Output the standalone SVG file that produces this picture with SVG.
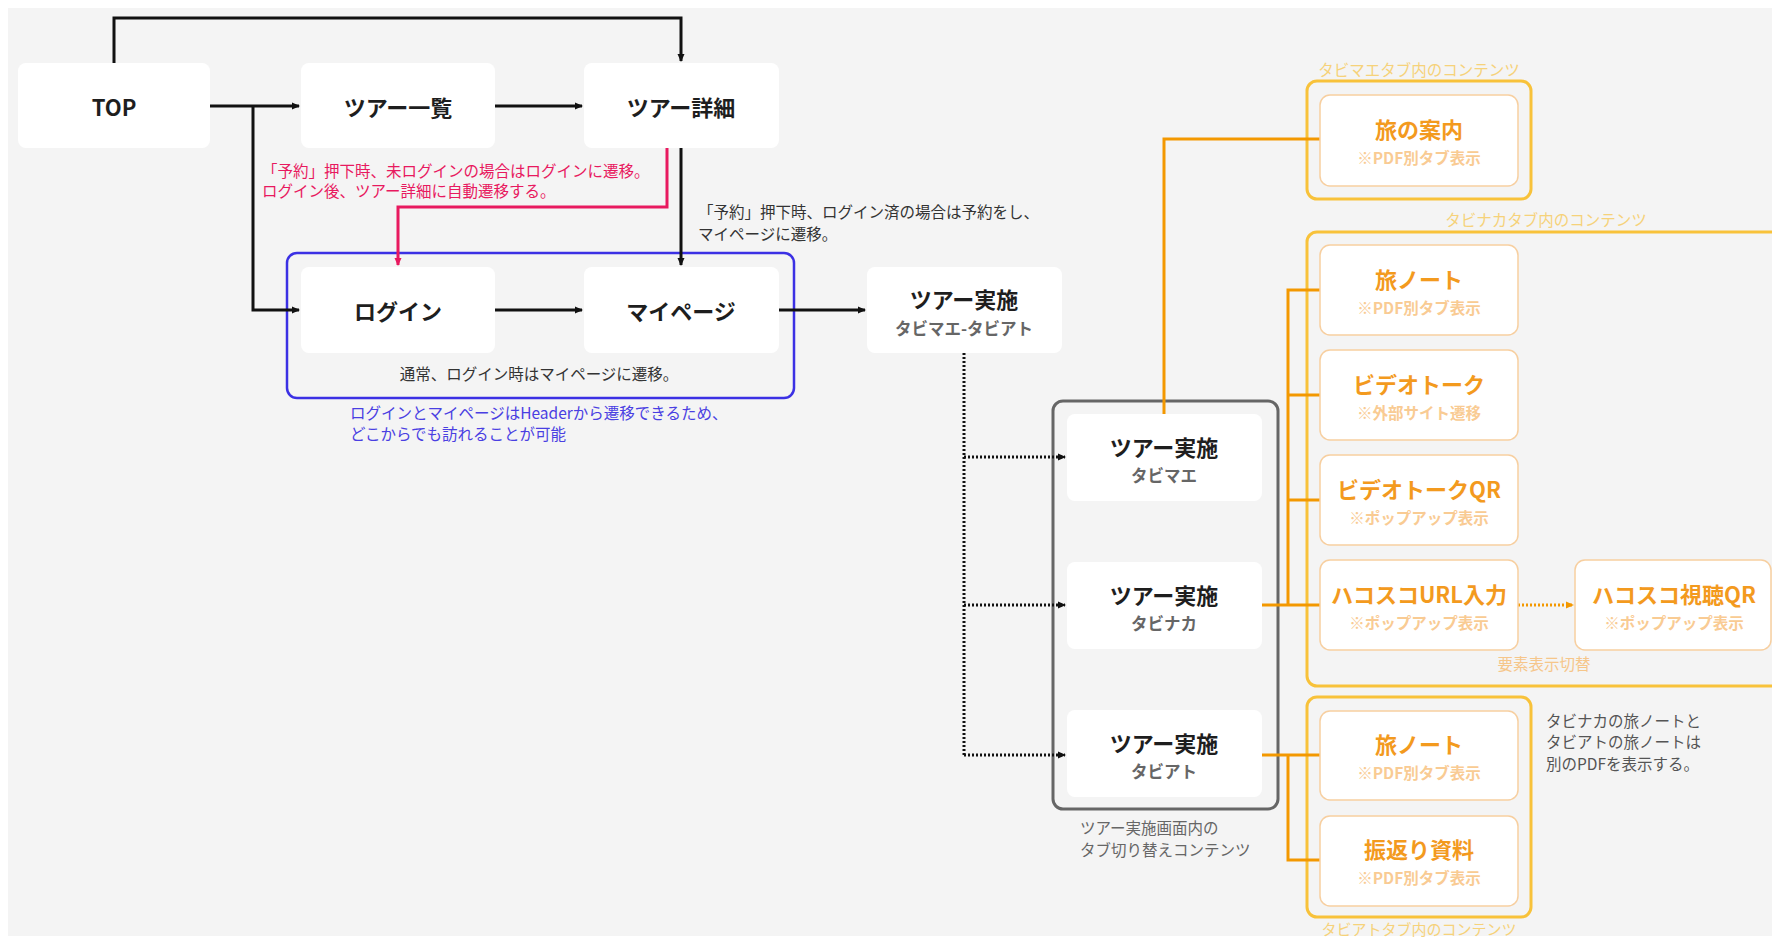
<svg xmlns="http://www.w3.org/2000/svg" width="1772" height="939" viewBox="0 0 1772 939">
<defs>
<marker id="ab" viewBox="0 0 8 8" refX="7" refY="4" markerWidth="8" markerHeight="8" markerUnits="userSpaceOnUse" orient="auto"><path d="M0,0.5 L8,4 L0,7.5 z" fill="#111"/></marker>
<marker id="ap" viewBox="0 0 8 8" refX="7" refY="4" markerWidth="8" markerHeight="8" markerUnits="userSpaceOnUse" orient="auto"><path d="M0,0.5 L8,4 L0,7.5 z" fill="#e8195f"/></marker>
<marker id="ao" viewBox="0 0 8 8" refX="7" refY="4" markerWidth="8" markerHeight="8" markerUnits="userSpaceOnUse" orient="auto"><path d="M0,0.5 L8,4 L0,7.5 z" fill="#f39800"/></marker>
<style>
text{font-family:"Noto Sans CJK JP","Noto Sans",sans-serif;}
.node{fill:#fff;}
.t{font-size:22px;font-weight:700;fill:#1e1e1e;text-anchor:middle;dominant-baseline:central;}
.s{font-size:16.5px;font-weight:700;fill:#666;text-anchor:middle;dominant-baseline:central;}
.onode{fill:#fff;stroke:#f7cfa0;stroke-width:1.5;}
.ot{font-size:22px;font-weight:700;fill:#f39a1e;text-anchor:middle;dominant-baseline:central;}
.os{font-size:15.5px;font-weight:700;fill:#f9cb93;text-anchor:middle;dominant-baseline:central;}
.box{fill:none;stroke:#f8c23a;stroke-width:3;}
.blab{font-size:15.5px;fill:#f6d27a;text-anchor:middle;dominant-baseline:central;}
.note{font-size:15.5px;dominant-baseline:central;}
.k{fill:none;stroke:#111;stroke-width:3;}
.dot{fill:none;stroke:#111;stroke-width:3;stroke-dasharray:2 2;}
.o{fill:none;stroke:#f39800;stroke-width:3;}
</style>
</defs>
<rect x="0" y="0" width="1772" height="939" fill="#fff"/>
<rect x="8" y="8" width="1764" height="928" fill="#f4f4f4"/>

<g id="group-login">
<rect x="287" y="253" width="507" height="145" rx="10" fill="none" stroke="#3b30e4" stroke-width="2.5"/>
<text class="note" x="539" y="373" text-anchor="middle" fill="#333">通常、ログイン時はマイページに遷移。</text>
<text class="note" x="350" y="412" fill="#4a3fe2">ログインとマイページはHeaderから遷移できるため、</text>
<text class="note" x="350" y="433" fill="#4a3fe2">どこからでも訪れることが可能</text>
</g>

<g id="group-tabs">
<rect x="1053" y="401" width="225" height="408" rx="10" fill="none" stroke="#666" stroke-width="3"/>
<text class="note" x="1080" y="827" fill="#666">ツアー実施画面内の</text>
<text class="note" x="1080" y="849" fill="#666">タブ切り替えコンテンツ</text>
</g>

<g id="box-mae">
<rect class="box" x="1307" y="81" width="224" height="118" rx="10"/>
<text class="blab" x="1419" y="69">タビマエタブ内のコンテンツ</text>
</g>
<g id="box-naka">
<rect class="box" x="1307" y="232" width="500" height="454" rx="10"/>
<text class="blab" x="1546" y="219">タビナカタブ内のコンテンツ</text>
<text class="note" x="1544" y="663" text-anchor="middle" fill="#f6c68a">要素表示切替</text>
</g>
<g id="box-ato">
<rect class="box" x="1307" y="697" width="224" height="220" rx="10"/>
<text class="blab" x="1419" y="928" style="font-size:15px">タビアトタブ内のコンテンツ</text>
</g>

<g id="connectors">
<path class="k" d="M114,63 V18 H681 V61" marker-end="url(#ab)"/>
<path class="k" d="M210,106 H299" marker-end="url(#ab)"/>
<path class="k" d="M253,106 V310 H299" marker-end="url(#ab)"/>
<path class="k" d="M495,106 H582" marker-end="url(#ab)"/>
<path d="M667,148 V207 H398 V265" fill="none" stroke="#e8195f" stroke-width="3" marker-end="url(#ap)"/>
<path class="k" d="M681,148 V265" marker-end="url(#ab)"/>
<path class="k" d="M495,310 H582" marker-end="url(#ab)"/>
<path class="k" d="M779,310 H865" marker-end="url(#ab)"/>
<path class="dot" d="M964,353 V755"/>
<path class="dot" d="M964,457 H1065" marker-end="url(#ab)"/>
<path class="dot" d="M964,605 H1065" marker-end="url(#ab)"/>
<path class="dot" d="M964,755 H1065" marker-end="url(#ab)"/>
<path class="o" d="M1164,415 V139 H1320"/>
<path class="o" d="M1261,605 H1320"/>
<path class="o" d="M1288,605 V290 H1320"/>
<path class="o" d="M1288,395 H1320"/>
<path class="o" d="M1288,500 H1320"/>
<path class="o" d="M1261,755 H1320"/>
<path class="o" d="M1288,755 V860 H1320"/>
<path d="M1518,605 H1573" fill="none" stroke="#f39800" stroke-width="3" stroke-dasharray="2 2" marker-end="url(#ao)"/>
</g>

<g id="n-top"><rect class="node" x="18" y="63" width="192" height="85" rx="8"/><text class="t" x="114" y="106">TOP</text></g>
<g id="n-list"><rect class="node" x="301" y="63" width="194" height="85" rx="8"/><text class="t" x="398" y="106">ツアー一覧</text></g>
<g id="n-detail"><rect class="node" x="584" y="63" width="195" height="85" rx="8"/><text class="t" x="681" y="106">ツアー詳細</text></g>
<g id="n-login"><rect class="node" x="301" y="267" width="194" height="86" rx="8"/><text class="t" x="398" y="310">ログイン</text></g>
<g id="n-mypage"><rect class="node" x="584" y="267" width="195" height="86" rx="8"/><text class="t" x="681" y="310">マイページ</text></g>
<g id="n-tour"><rect class="node" x="867" y="267" width="195" height="86" rx="8"/><text class="t" x="964" y="298">ツアー実施</text><text class="s" x="964" y="328">タビマエ-タビアト</text></g>

<g id="n-mae"><rect class="node" x="1067" y="414" width="195" height="87" rx="8"/><text class="t" x="1164" y="446">ツアー実施</text><text class="s" x="1164" y="475">タビマエ</text></g>
<g id="n-naka"><rect class="node" x="1067" y="562" width="195" height="87" rx="8"/><text class="t" x="1164" y="594">ツアー実施</text><text class="s" x="1164" y="623">タビナカ</text></g>
<g id="n-ato"><rect class="node" x="1067" y="710" width="195" height="87" rx="8"/><text class="t" x="1164" y="742">ツアー実施</text><text class="s" x="1164" y="771">タビアト</text></g>

<g id="o-annai"><rect class="onode" x="1320" y="95" width="198" height="91" rx="10"/><text class="ot" x="1419" y="128">旅の案内</text><text class="os" x="1419" y="157">※PDF別タブ表示</text></g>
<g id="o-note1"><rect class="onode" x="1320" y="245" width="198" height="90" rx="10"/><text class="ot" x="1419" y="278">旅ノート</text><text class="os" x="1419" y="307">※PDF別タブ表示</text></g>
<g id="o-video"><rect class="onode" x="1320" y="350" width="198" height="90" rx="10"/><text class="ot" x="1419" y="383">ビデオトーク</text><text class="os" x="1419" y="412">※外部サイト遷移</text></g>
<g id="o-videoqr"><rect class="onode" x="1320" y="455" width="198" height="90" rx="10"/><text class="ot" x="1419" y="488">ビデオトークQR</text><text class="os" x="1419" y="517">※ポップアップ表示</text></g>
<g id="o-hakourl"><rect class="onode" x="1320" y="560" width="198" height="90" rx="10"/><text class="ot" x="1419" y="593">ハコスコURL入力</text><text class="os" x="1419" y="622">※ポップアップ表示</text></g>
<g id="o-hakoqr"><rect class="onode" x="1575" y="560" width="196" height="90" rx="10"/><text class="ot" x="1674" y="593">ハコスコ視聴QR</text><text class="os" x="1674" y="622">※ポップアップ表示</text></g>
<g id="o-note2"><rect class="onode" x="1320" y="711" width="198" height="89" rx="10"/><text class="ot" x="1419" y="743">旅ノート</text><text class="os" x="1419" y="772">※PDF別タブ表示</text></g>
<g id="o-furikaeri"><rect class="onode" x="1320" y="816" width="198" height="90" rx="10"/><text class="ot" x="1419" y="848">振返り資料</text><text class="os" x="1419" y="877">※PDF別タブ表示</text></g>

<g id="notes">
<text class="note" x="262" y="170" fill="#e8195f">「予約」押下時、未ログインの場合はログインに遷移。</text>
<text class="note" x="262" y="190" fill="#e8195f">ログイン後、ツアー詳細に自動遷移する。</text>
<text class="note" x="698" y="211" fill="#333">「予約」押下時、ログイン済の場合は予約をし、</text>
<text class="note" x="698" y="233" fill="#333">マイページに遷移。</text>
<text class="note" x="1546" y="720" fill="#555">タビナカの旅ノートと</text>
<text class="note" x="1546" y="741" fill="#555">タビアトの旅ノートは</text>
<text class="note" x="1546" y="763" fill="#555">別のPDFを表示する。</text>
</g>
</svg>
